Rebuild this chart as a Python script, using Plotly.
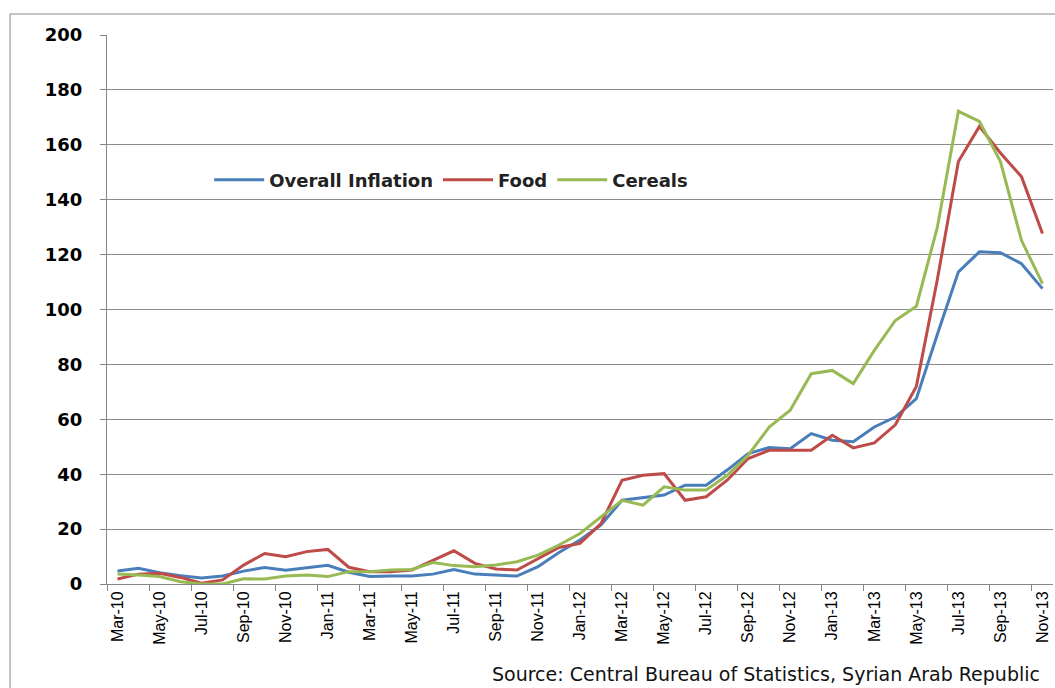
import plotly.graph_objects as go

# Monthly year-on-year inflation, Mar-2010 to Nov-2013 (%)
months = [
    "Mar-10", "Apr-10", "May-10", "Jun-10", "Jul-10", "Aug-10", "Sep-10", "Oct-10", "Nov-10", "Dec-10",
    "Jan-11", "Feb-11", "Mar-11", "Apr-11", "May-11", "Jun-11", "Jul-11", "Aug-11", "Sep-11", "Oct-11",
    "Nov-11", "Dec-11", "Jan-12", "Feb-12", "Mar-12", "Apr-12", "May-12", "Jun-12", "Jul-12", "Aug-12",
    "Sep-12", "Oct-12", "Nov-12", "Dec-12", "Jan-13", "Feb-13", "Mar-13", "Apr-13", "May-13", "Jun-13",
    "Jul-13", "Aug-13", "Sep-13", "Oct-13", "Nov-13",
]

overall = [
    4.7, 5.7, 4.1, 3.0, 2.2, 2.9, 4.7, 6.0, 5.0, 6.0,
    6.8, 4.3, 2.7, 2.9, 2.9, 3.6, 5.3, 3.6, 3.3, 2.9,
    6.3, 11.5, 16.0, 21.5, 30.5, 31.5, 32.4, 36.0, 36.0, 41.5,
    47.5, 49.7, 49.3, 54.8, 52.4, 51.8, 57.2, 60.8, 67.5, 91.0,
    113.7, 121.0, 120.7, 116.7, 107.6,
]

food = [
    1.8, 3.6, 3.9, 2.4, 0.3, 1.5, 6.9, 11.1, 9.9, 11.8,
    12.6, 6.1, 4.5, 4.5, 5.1, 8.7, 12.1, 7.5, 5.5, 5.1,
    9.3, 13.3, 14.8, 22.0, 37.8, 39.6, 40.2, 30.5, 31.8, 37.8,
    45.7, 48.7, 48.7, 48.7, 54.2, 49.6, 51.4, 58.0, 72.0, 111.0,
    153.9, 166.7, 157.0, 148.4, 127.7,
]

cereals = [
    3.6, 3.3, 2.7, 0.8, 0.0, 0.0, 1.9, 1.8, 2.9, 3.3,
    2.7, 4.5, 4.5, 5.1, 5.3, 7.8, 6.7, 6.3, 6.9, 8.1,
    10.5, 14.2, 18.4, 24.5, 30.5, 28.7, 35.4, 34.2, 34.2, 39.6,
    46.9, 57.2, 63.3, 76.6, 77.8, 73.0, 85.1, 96.0, 101.2, 130.0,
    172.2, 168.5, 153.9, 125.2, 109.4,
]

series_names = ["Overall Inflation", "Food", "Cereals"]
series_colors = ["#4A7EBB", "#BE4B48", "#98B954"]

x_idx = list(range(len(months)))

fig = go.Figure()
for name, vals, col in zip(series_names, [overall, food, cereals], series_colors):
    fig.add_trace(go.Scatter(
        x=x_idx, y=vals, mode="lines", name=name,
        line=dict(color=col, width=3),
    ))

label_idx = x_idx[::2]
label_txt = months[::2]

fig.update_layout(
    width=1055, height=688,
    margin=dict(l=107, r=2, t=35, b=104),
    paper_bgcolor="white",
    plot_bgcolor="white",
    showlegend=True,
    legend=dict(
        orientation="h",
        x=0.108, xanchor="left",
        y=0.736, yanchor="middle",
        font=dict(family="DejaVu Sans", size=18, color="#222222", weight="bold"),
        bgcolor="rgba(0,0,0,0)",
        itemwidth=50,
    ),
    xaxis=dict(
        range=[-0.5, len(months) - 0.5],
        tickmode="array",
        tickvals=label_idx,
        ticktext=label_txt,
        tickangle=-90,
        ticks="",
        tickfont=dict(family="Liberation Sans", size=16, color="#000000"),
        showgrid=False,
        zeroline=False,
        showline=True,
        linecolor="#868686",
        linewidth=1,
        minor=dict(
            tickmode="linear", tick0=-0.5, dtick=2,
            ticks="outside", ticklen=6, tickcolor="#868686", tickwidth=1,
            showgrid=False,
        ),
    ),
    yaxis=dict(
        range=[0, 200],
        tickmode="linear", tick0=0, dtick=20,
        ticks="outside", ticklen=6, tickcolor="#868686",
        tickfont=dict(family="DejaVu Sans", size=18, color="#000000", weight="bold"),
        ticklabelstandoff=14,
        showgrid=True,
        gridcolor="#8C8C8C",
        gridwidth=1,
        zeroline=False,
        showline=True,
        linecolor="#868686",
        linewidth=1,
    ),
    shapes=[
        # outer chart frame
        dict(type="rect", xref="paper", yref="paper",
             x0=-0.1025, x1=1.01, y0=-0.22, y1=1.0383,
             line=dict(color="#8A8A8A", width=1), layer="below"),
    ],
    annotations=[
        dict(text="Source: Central Bureau of Statistics, Syrian Arab Republic",
             xref="paper", yref="paper", x=0.988, y=-0.1875,
             xanchor="right", yanchor="bottom", showarrow=False,
             font=dict(family="DejaVu Sans", size=19, color="#111111")),
    ],
)

fig.write_html("out.html")
